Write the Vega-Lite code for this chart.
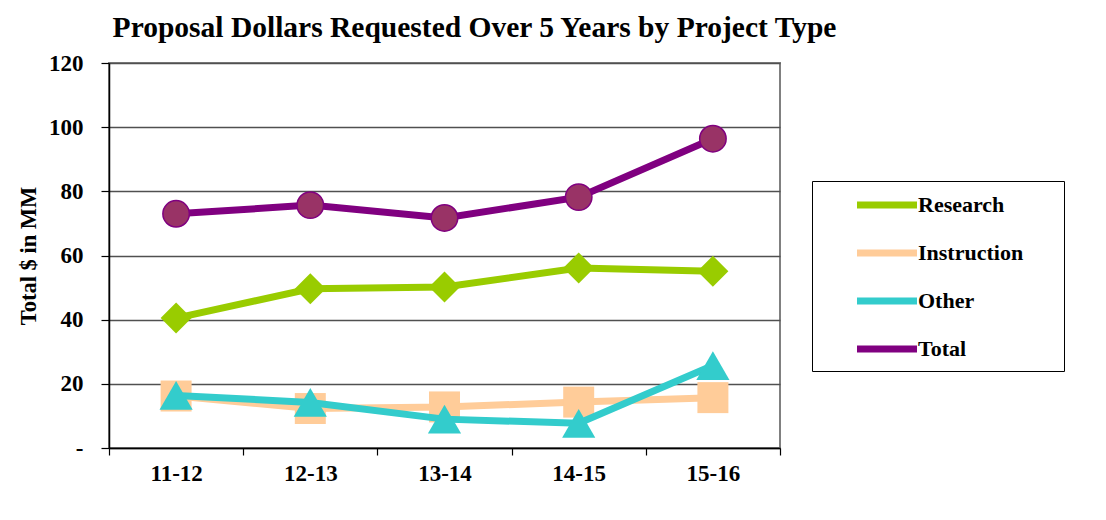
{
  "$schema": "https://vega.github.io/schema/vega-lite/v6.json",
  "autosize": {"type": "none"},
  "padding": {"left": 109, "top": 63, "right": 326, "bottom": 72},
  "width": 671,
  "height": 385,
  "background": "white",
  "title": {
    "text": "Proposal Dollars Requested Over 5 Years by Project Type",
    "font": "Liberation Serif",
    "fontSize": 29.5,
    "fontWeight": "bold",
    "color": "black",
    "anchor": "middle",
    "dx": 30,
    "offset": 9
  },
  "config": {
    "view": {"stroke": "#808080", "strokeWidth": 2},
    "axis": {
      "labelFont": "Liberation Serif",
      "labelFontSize": 23,
      "labelFontWeight": "bold",
      "labelColor": "black",
      "titleFont": "Liberation Serif",
      "titleFontSize": 22.5,
      "titleFontWeight": "bold",
      "titleColor": "black",
      "domainColor": "black",
      "domainWidth": 1.5,
      "tickColor": "black",
      "tickWidth": 1.2
    }
  },
  "data": {
    "values": [
      {"year": "11-12", "series": "Research", "value": 40.5},
      {"year": "12-13", "series": "Research", "value": 49.6},
      {"year": "13-14", "series": "Research", "value": 50.2},
      {"year": "14-15", "series": "Research", "value": 56.1},
      {"year": "15-16", "series": "Research", "value": 55.1},
      {"year": "11-12", "series": "Instruction", "value": 16.2},
      {"year": "12-13", "series": "Instruction", "value": 12.3},
      {"year": "13-14", "series": "Instruction", "value": 12.8},
      {"year": "14-15", "series": "Instruction", "value": 14.3},
      {"year": "15-16", "series": "Instruction", "value": 15.7},
      {"year": "11-12", "series": "Other", "value": 16.4},
      {"year": "12-13", "series": "Other", "value": 14.2},
      {"year": "13-14", "series": "Other", "value": 9.0},
      {"year": "14-15", "series": "Other", "value": 7.7},
      {"year": "15-16", "series": "Other", "value": 25.7},
      {"year": "11-12", "series": "Total", "value": 73.0},
      {"year": "12-13", "series": "Total", "value": 75.7},
      {"year": "13-14", "series": "Total", "value": 71.7},
      {"year": "14-15", "series": "Total", "value": 78.2},
      {"year": "15-16", "series": "Total", "value": 96.4}
    ]
  },
  "encoding": {
    "x": {
      "field": "year",
      "type": "nominal",
      "scale": {"type": "band", "paddingInner": 0, "paddingOuter": 0},
      "axis": {
        "title": null,
        "labelAngle": 0,
        "tickBand": "extent",
        "tickSize": 7,
        "labelPadding": 7,
        "grid": false
      }
    },
    "y": {
      "field": "value",
      "type": "quantitative",
      "scale": {"domain": [0, 120], "nice": false},
      "axis": {
        "title": "Total $ in MM",
        "values": [0, 20, 40, 60, 80, 100, 120],
        "labelExpr": "datum.value == 0 ? '-' : datum.label",
        "tickSize": 8,
        "labelPadding": 18,
        "titlePadding": 8,
        "grid": true,
        "gridColor": "#505050",
        "gridWidth": 1.3
      }
    }
  },
  "layer": [
    {
      "transform": [{"filter": "datum.series == 'Research'"}],
      "mark": {"type": "line", "strokeWidth": 7},
      "encoding": {
        "color": {
          "field": "series",
          "type": "nominal",
          "scale": {
            "domain": ["Research", "Instruction", "Other", "Total"],
            "range": ["#99CC00", "#FFCC99", "#33CCCC", "#800080"]
          },
          "legend": {
            "title": null,
            "orient": "none",
            "legendX": 703,
            "legendY": 118,
            "symbolType": "M-2.4,0L2.4,0",
            "symbolStrokeWidth": 7,
            "symbolSize": 625,
            "symbolOffset": 51,
            "labelFont": "Liberation Serif",
            "labelFontSize": 22,
            "labelFontWeight": "bold",
            "labelColor": "black",
            "labelOffset": 15,
            "labelExpr": "datum.label + '\u2800\u2800'",
            "rowPadding": 18,
            "padding": 8,
            "strokeColor": "black",
            "fillColor": "white"
          }
        }
      }
    },
    {
      "transform": [{"filter": "datum.series == 'Research'"}],
      "mark": {"type": "point", "shape": "diamond", "filled": true, "size": 960, "opacity": 1, "color": "#99CC00"}
    },
    {
      "transform": [{"filter": "datum.series == 'Instruction'"}],
      "mark": {"type": "line", "strokeWidth": 7},
      "encoding": {"color": {"field": "series", "type": "nominal"}}
    },
    {
      "transform": [{"filter": "datum.series == 'Instruction'"}],
      "mark": {"type": "point", "shape": "square", "filled": true, "size": 960, "opacity": 1, "color": "#FFCC99"}
    },
    {
      "transform": [{"filter": "datum.series == 'Other'"}],
      "mark": {"type": "line", "strokeWidth": 7},
      "encoding": {"color": {"field": "series", "type": "nominal"}}
    },
    {
      "transform": [{"filter": "datum.series == 'Other'"}],
      "mark": {"type": "point", "shape": "triangle-up", "filled": true, "size": 1100, "opacity": 1, "color": "#33CCCC"}
    },
    {
      "transform": [{"filter": "datum.series == 'Total'"}],
      "mark": {"type": "line", "strokeWidth": 7},
      "encoding": {"color": {"field": "series", "type": "nominal"}}
    },
    {
      "transform": [{"filter": "datum.series == 'Total'"}],
      "mark": {"type": "point", "shape": "circle", "filled": true, "size": 700, "opacity": 1, "fill": "#993366", "stroke": "#800080", "strokeWidth": 1.5}
    }
  ]
}
